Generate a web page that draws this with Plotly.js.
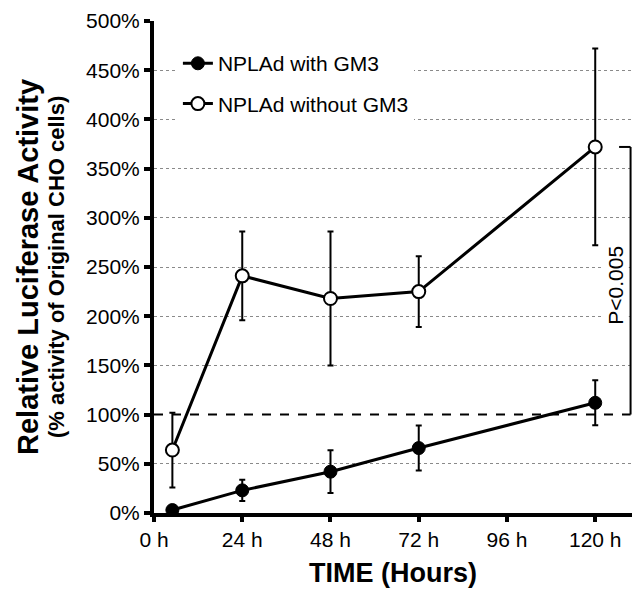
<!DOCTYPE html>
<html>
<head>
<meta charset="utf-8">
<script src="https://cdn.plot.ly/plotly-3.0.1.min.js"></script>
<style>body{margin:0;background:#fff}</style>
</head>
<body>
<div id="chart" style="width:637px;height:590px"></div>
<script>
// ---- data ----
const hours = [5, 24, 48, 72, 120];
const withGM3 = [3, 23, 42, 66, 112];
const withGM3Err = [0, 10.7, 21.7, 22.9, 22.8];
const withoutGM3 = [64, 241, 218, 225, 372];
const withoutGM3Err = [38, 45, 68, 36, 100];
const seriesNames = ['NPLAd with GM3', 'NPLAd without GM3'];
const xTickVals = [0, 24, 48, 72, 96, 120];
const xTickText = ['0 h', '24 h', '48 h', '72 h', '96 h', '120 h'];
const yTickVals = [0, 50, 100, 150, 200, 250, 300, 350, 400, 450, 500];
const yTickText = ['0%', '50%', '100%', '150%', '200%', '250%', '300%', '350%', '400%', '450%', '500%'];
const gridVals = [50, 150, 200, 250, 300, 350, 400, 450, 500];
const refLevel = 100;        // original CHO activity (dashed line)
const pText = 'P<0.005';
const pTextY = 232;

const FONT = 'Arial, "Liberation Sans", sans-serif';

const traces = [
  {
    x: hours, y: withGM3, name: seriesNames[0], type: 'scatter', mode: 'lines+markers',
    legendgroup: 'a',
    line: {color: '#000', width: 3},
    marker: {color: '#000', size: 13, symbol: 'circle', line: {color: '#000', width: 1}},
    error_y: {type: 'data', array: withGM3Err, visible: true, color: '#000', thickness: 2, width: 3}
  },
  {
    x: hours, y: withoutGM3, name: seriesNames[1], type: 'scatter', mode: 'lines+markers',
    legendgroup: 'b',
    line: {color: '#000', width: 3},
    marker: {color: '#fff', size: 13, symbol: 'circle', line: {color: '#000', width: 2}},
    error_y: {type: 'data', array: withoutGM3Err, visible: true, color: '#000', thickness: 2, width: 3}
  },
  {
    // carrier for the grid-only overlay axis
    x: [null], y: [null], yaxis: 'y2', type: 'scatter', mode: 'markers',
    showlegend: false, hoverinfo: 'skip'
  }
];

const layout = {
  width: 637, height: 590,
  margin: {l: 154, r: 5, t: 21, b: 77},
  paper_bgcolor: '#fff', plot_bgcolor: '#fff',
  font: {family: FONT, color: '#000', size: 21},
  showlegend: true,
  legend: {
    x: 0.05, y: 0.955, xanchor: 'left', yanchor: 'top',
    bgcolor: '#fff', borderwidth: 0, font: {size: 21, family: FONT},
    tracegroupgap: 10
  },
  xaxis: {
    range: [0, 130], tickvals: xTickVals, ticktext: xTickText,
    showline: true, linecolor: '#000', linewidth: 4,
    ticks: 'outside', ticklen: 5, tickwidth: 4, tickcolor: '#000',
    showgrid: false, zeroline: false,
    tickfont: {size: 21, family: FONT},
    title: {text: '<b>TIME (Hours)</b>', font: {size: 27, family: FONT}, standoff: 14}
  },
  yaxis: {
    range: [0, 500], tickvals: yTickVals, ticktext: yTickText,
    showline: true, linecolor: '#000', linewidth: 4,
    ticks: 'outside', ticklen: 6, tickwidth: 4, tickcolor: '#000',
    showgrid: false, zeroline: false,
    tickfont: {size: 21, family: FONT}
  },
  yaxis2: {
    overlaying: 'y', range: [0, 500], tickvals: gridVals,
    showticklabels: false, ticks: '', showline: false, zeroline: false,
    showgrid: true, gridcolor: '#8a8a8a', gridwidth: 1, griddash: 'dot'
  },
  shapes: [
    {type: 'line', xref: 'paper', yref: 'y', x0: 0, x1: 0.997, y0: refLevel, y1: refLevel,
     line: {color: '#000', width: 2, dash: 'dash'}},
    {type: 'line', xref: 'paper', yref: 'y', x0: 0.997, x1: 0.997, y0: refLevel, y1: withoutGM3[4],
     line: {color: '#000', width: 2}},
    {type: 'line', xref: 'paper', yref: 'y', x0: 0.973, x1: 0.997, y0: withoutGM3[4], y1: withoutGM3[4],
     line: {color: '#000', width: 2}}
  ],
  annotations: [
    {text: '<b>Relative Luciferase Activity</b>', xref: 'paper', yref: 'paper', x: -0.2636, y: 0.5,
     xanchor: 'center', yanchor: 'middle', textangle: -90, showarrow: false,
     font: {size: 29, family: FONT}},
    {text: '<b>(% activity of Original CHO cells)</b>', xref: 'paper', yref: 'paper', x: -0.205, y: 0.5,
     xanchor: 'center', yanchor: 'middle', textangle: -90, showarrow: false,
     font: {size: 22, family: FONT}},
    {text: pText, xref: 'paper', yref: 'y', x: 0.9665, y: pTextY,
     xanchor: 'center', yanchor: 'middle', textangle: -90, showarrow: false,
     bgcolor: '#fff', borderpad: 1, font: {size: 21, family: FONT}}
  ]
};

Plotly.newPlot('chart', traces, layout, {displayModeBar: false, staticPlot: true});
</script>
</body>
</html>
